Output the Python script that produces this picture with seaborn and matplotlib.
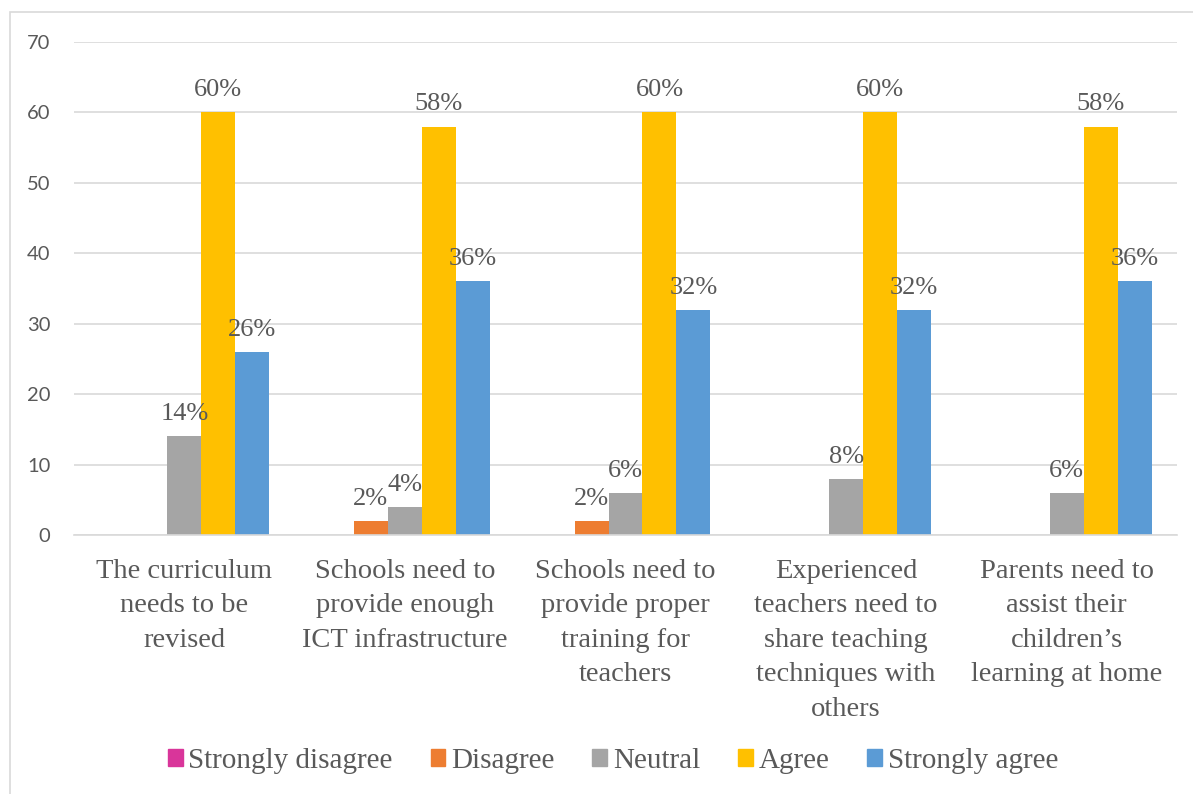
import matplotlib
matplotlib.use("Agg")
import matplotlib.pyplot as plt
import seaborn as sns
import pandas as pd
from matplotlib.patches import Rectangle

categories = [
    "The curriculum\nneeds to be\nrevised",
    "Schools need to\nprovide enough\nICT infrastructure",
    "Schools need to\nprovide proper\ntraining for\nteachers",
    "Experienced\nteachers need to\nshare teaching\ntechniques with\nothers",
    "Parents need to\nassist their\nchildren\u2019s\nlearning at home",
]
series_names = ["Strongly disagree", "Disagree", "Neutral", "Agree", "Strongly agree"]
strongly_disagree = [0, 0, 0, 0, 0]
disagree = [0, 2, 2, 0, 0]
neutral = [14, 4, 6, 8, 6]
agree = [60, 58, 60, 60, 58]
strongly_agree = [26, 36, 32, 32, 36]
colors = ["#D9359A", "#ED7D31", "#A5A5A5", "#FFC000", "#5B9BD5"]
yticks = [0, 10, 20, 30, 40, 50, 60, 70]

values = [strongly_disagree, disagree, neutral, agree, strongly_agree]
rows = []
for name, vals in zip(series_names, values):
    for cat, v in zip(categories, vals):
        rows.append({"category": cat, "response": name, "value": v})
df = pd.DataFrame(rows)

sns.set_theme(style="white")
serif = ["Liberation Serif", "DejaVu Serif"]
sans = ["Lato", "DejaVu Sans"]
text_color = "#595959"

fig = plt.figure(figsize=(11.93, 7.94), dpi=100)
W, H = 1193, 794
ax = fig.add_axes([74 / W, (H - 535) / H, (1177 - 74) / W, (535 - 42) / H])

sns.barplot(data=df, x="category", y="value", hue="response",
            order=categories, hue_order=series_names,
            palette=colors, saturation=1, width=0.77, linewidth=0, errorbar=None,
            legend=False, ax=ax)

ax.set_ylim(0, 70)
ax.set_yticks(yticks)
ax.set_yticklabels([str(t) for t in yticks], fontfamily=sans, fontsize=14.5, color=text_color)
ax.set_xlabel("")
ax.set_ylabel("")
ax.set_xticks(range(len(categories)))
ax.set_xticklabels(categories, fontfamily=serif, fontsize=20.5, color=text_color,
                   linespacing=1.5)
ax.tick_params(axis="both", length=0)
ax.tick_params(axis="y", pad=17)
ax.tick_params(axis="x", pad=17)
ax.grid(axis="y", color="#D9D9D9", linewidth=1.2)
ax.set_axisbelow(True)
for s in ["top", "right", "left"]:
    ax.spines[s].set_visible(False)
ax.spines["bottom"].set_color("#D9D9D9")
ax.spines["bottom"].set_linewidth(1.2)

for cont, vals in zip(ax.containers, values):
    labels = [f"{v}%" if v > 0 else "" for v in vals]
    ax.bar_label(cont, labels=labels, padding=8, fontsize=19,
                 fontfamily=serif, color=text_color)

handles = [Rectangle((0, 0), 1, 1, color=c) for c in colors]
fig.legend(handles, series_names, loc="center", bbox_to_anchor=(613 / W, (H - 761) / H),
           ncol=5, frameon=False, handlelength=0.5, handleheight=0.5,
           handletextpad=0.2, columnspacing=1.3,
           prop={"family": serif, "size": 21}, labelcolor=text_color)

border = Rectangle((10 / W, -0.05), 1.1, (H - 12) / H + 0.05, transform=fig.transFigure,
                   fill=False, edgecolor="#D9D9D9", linewidth=1.2)
fig.patches.append(border)

fig.savefig("out.png", dpi=100, facecolor="white")
